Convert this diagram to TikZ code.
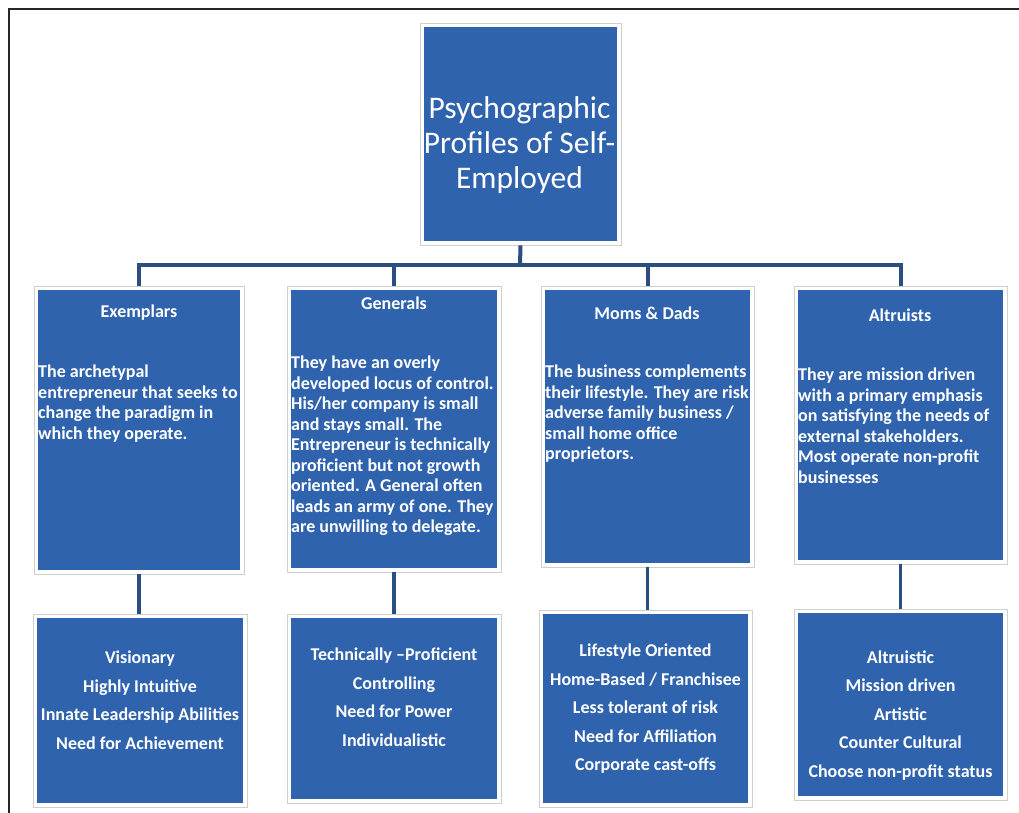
\documentclass[tikz,border=0pt]{standalone}
\usepackage{fontspec}
\setmainfont{Carlito}
\usetikzlibrary{calc}

\definecolor{cardblue}{HTML}{2F63AD}
\definecolor{linkblue}{HTML}{2A4E82}
\definecolor{rimgray}{HTML}{CFCFCF}

\tikzset{
  card/.style={draw=rimgray, line width=0.8pt, fill=white, inner sep=0pt,
    path picture={\fill[cardblue] ($(path picture bounding box.north west)+(4pt,-4pt)$)
      rectangle ($(path picture bounding box.south east)+(-4pt,4pt)$);}},
  link/.style={draw=linkblue, line width=4pt},
  head/.style={text=white, inner sep=0pt, font=\fontsize{18}{20.5}\selectfont\bfseries},
  body/.style={head, align=left, anchor=north west},
  traits/.style={text=white, inner sep=0pt, align=center,
    font=\fontsize{18}{28.5}\selectfont\bfseries}
}

\begin{document}
\begin{tikzpicture}[x=1pt,y=-1pt]

\useasboundingbox (0,0) rectangle (1019,813);

\coordinate (c0) at (520.5,134);
\coordinate (c1) at (139,430);
\coordinate (c2) at (394,429);
\coordinate (c3) at (647.5,426.5);
\coordinate (c4) at (900.5,425);
\coordinate (c5) at (140,710.5);
\coordinate (c6) at (394,708.5);
\coordinate (c7) at (645.5,708.5);
\coordinate (c8) at (900.5,704.5);
\coordinate (bus) at (520,265);

  \draw[line width=2.5pt, black!85] (1019,9) -- (9,9) -- (9,813);

  \node[card, minimum width=201pt, minimum height=222pt] (root) at (c0) {};
  \node[card, minimum width=210pt, minimum height=288pt] (exem) at (c1) {};
  \node[card, minimum width=214pt, minimum height=286pt] (gen) at (c2) {};
  \node[card, minimum width=213pt, minimum height=281pt] (moms) at (c3) {};
  \node[card, minimum width=213pt, minimum height=278pt] (altr) at (c4) {};
  \node[card, minimum width=214pt, minimum height=193pt] (exemT) at (c5) {};
  \node[card, minimum width=214pt, minimum height=189pt] (genT) at (c6) {};
  \node[card, minimum width=213pt, minimum height=197pt] (momsT) at (c7) {};
  \node[card, minimum width=213pt, minimum height=191pt] (altrT) at (c8) {};

  \draw[link] (root.south) -- (bus);
  \draw[link] (exem.north) |- (bus) -| (altr.north);
  \draw[link] (gen.north) -- (gen.north |- bus);
  \draw[link] (moms.north) -- (moms.north |- bus);

  \draw[link, line width=3.5pt] (exem.south) -- (exem.south |- exemT.north);
  \draw[link, line width=3.5pt] (gen.south) -- (gen.south |- genT.north);
  \draw[link, line width=3.5pt] (moms.south) -- (moms.south |- momsT.north);
  \draw[link, line width=3.5pt] (altr.south) -- (altr.south |- altrT.north);

  \node[text=white, align=center, inner sep=0pt, font=\fontsize{31.5}{35}\selectfont]
    (rootTxt) at ($(root)+(-1,11)$) {Psychographic\\Profiles of Self-\\Employed};

  \node[head] (exemHd) at (139,313) {Exemplars};
  \node[head] (genHd) at (394,303) {Generals};
  \node[head] (momsHd) at (647,313) {Moms \& Dads};
  \node[head] (altrHd) at (900,315) {Altruists};

  \node[body] (exemTxt) at (38,365) {The archetypal\\entrepreneur that seeks to\\change the paradigm in\\which they operate.};
  \node[body] (genTxt) at (291,356) {They have an overly\\developed locus of control.\\His/her company is small\\and stays small. The\\Entrepreneur is technically\\proficient but not growth\\oriented. A General often\\leads an army of one. They\\are unwilling to delegate.};
  \node[body] (momsTxt) at (545,365) {The business complements\\their lifestyle. They are risk\\adverse family business /\\small home office\\proprietors.};
  \node[body] (altrTxt) at (798,368) {They are mission driven\\with a primary emphasis\\on satisfying the needs of\\external stakeholders.\\Most operate non-profit\\businesses};

  \node[traits] (exemList) at (140,700) {Visionary\\Highly Intuitive\\Innate Leadership Abilities\\Need for Achievement};
  \node[traits] (genList) at (394,697) {Technically –Proficient\\Controlling\\Need for Power\\Individualistic};
  \node[traits] (momsList) at (645.5,709) {Lifestyle Oriented\\Home-Based / Franchisee\\Less tolerant of risk\\Need for Affiliation\\Corporate cast-offs};
  \node[traits] (altrList) at (900.5,715.5) {Altruistic\\Mission driven\\Artistic\\Counter Cultural\\Choose non-profit status};

\end{tikzpicture}
\end{document}
